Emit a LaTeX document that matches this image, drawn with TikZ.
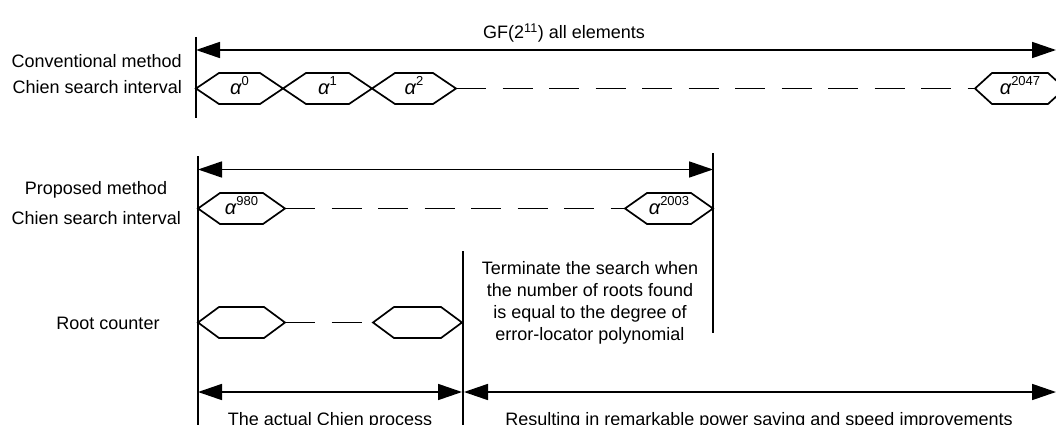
\documentclass[tikz,border=0pt]{standalone}
\usepackage{fontspec}
\setmainfont{Liberation Sans}
\usetikzlibrary{arrows.meta}
\tikzset{
  ln/.style={line width=1.7pt},
  tip/.tip={Triangle[length=24pt,width=16pt]},
  darr/.style={ln,tip-tip},
  dsh/.style={ln,dash pattern=on 30pt off 16.5pt},
  txt/.style={font=\fontsize{18}{22}\selectfont, inner sep=0pt},
  alab/.style={inner sep=0pt, anchor=base},
}
\newcommand\alp[1]{{\fontsize{20}{20}\selectfont\itshape α}\raisebox{9pt}{\fontsize{13}{13}\selectfont #1}}
% name, left x, right x, mid y, inset, label
\newcommand\hexagon[6]{%
  \draw[ln,line join=miter] (#2,#4) -- (#2+#5,#4-15.5) -- (#3-#5,#4-15.5) -- (#3,#4)
     -- (#3-#5,#4+15.5) -- (#2+#5,#4+15.5) -- cycle;
  \coordinate (#1L) at (#2,#4);
  \coordinate (#1R) at (#3,#4);
  \node[alab] (#1) at ({(#2+#3)/2},#4+6) {#6};}
\begin{document}
\begin{tikzpicture}[x=1pt,y=-1pt]
\useasboundingbox (0,0) rectangle (1056,425);
\clip (0,0) rectangle (1056,425);

% vertical boundary lines
\coordinate (v1t) at (196,37);  \coordinate (v1b) at (196,118);
\coordinate (v2t) at (198,156); \coordinate (v2b) at (198,425);
\coordinate (v3t) at (713,153); \coordinate (v3b) at (713,333);
\coordinate (v4t) at (463,251); \coordinate (v4b) at (463,425);
\draw[ln] (v1t) -- (v1b);
\draw[ln] (v2t) -- (v2b);
\draw[ln] (v3t) -- (v3b);
\draw[ln] (v4t) -- (v4b);

% row 1: conventional
\coordinate (a1s) at (196,50); \coordinate (a1e) at (1056,50);
\draw[darr] (a1s) -- (a1e);
\node[txt,anchor=base] (gf) at (564,39) {GF(2\textsuperscript{11}) all elements};
\node[txt,anchor=base east] (conv1) at (182,68) {Conventional method};
\node[txt,anchor=base east] (conv2) at (182,94) {Chien search interval};
\hexagon{h0}{196}{283}{88.5}{23}{\alp{0}}
\hexagon{h1}{283}{372}{88.5}{23}{\alp{1}}
\hexagon{h2}{372}{456}{88.5}{23}{\alp{2}}
\hexagon{h3}{975}{1065}{88.5}{17}{\alp{2047}}
\draw[dsh] (h2R) -- (h3L);

% row 2: proposed
\coordinate (a2s) at (198,169.5); \coordinate (a2e) at (713,169.5);
\draw[darr] (a2s) -- (a2e);
\node[txt,anchor=base] (prop1) at (96,194) {Proposed method};
\node[txt,anchor=base east] (prop2) at (181,224) {Chien search interval};
\hexagon{p0}{198}{285}{208.5}{22}{\alp{980}}
\hexagon{p1}{625}{713}{208.5}{22}{\alp{2003}}
\draw[dsh] (p0R) -- (p1L);

% row 3: root counter
\node[txt,anchor=base] (root) at (108,329) {Root counter};
\hexagon{r0}{198}{285}{322.5}{21}{}
\hexagon{r1}{373}{462}{322.5}{21}{}
\draw[dsh] (r0R) -- (r1L);

\node[txt,align=center,anchor=base] (term) at (590,340)
  {Terminate the search when\\the number of roots found\\is equal to the degree of\\error-locator polynomial};

% bottom arrows
\coordinate (b1s) at (198,392); \coordinate (b1e) at (462,392);
\coordinate (b2s) at (464,392); \coordinate (b2e) at (1056,392);
\draw[darr] (b1s) -- (b1e);
\draw[darr] (b2s) -- (b2e);
\node[txt,anchor=base] (actual) at (330,425) {The actual Chien process};
\node[txt,anchor=base] (result) at (759,425) {Resulting in remarkable power saving and speed improvements};
\end{tikzpicture}
\end{document}
